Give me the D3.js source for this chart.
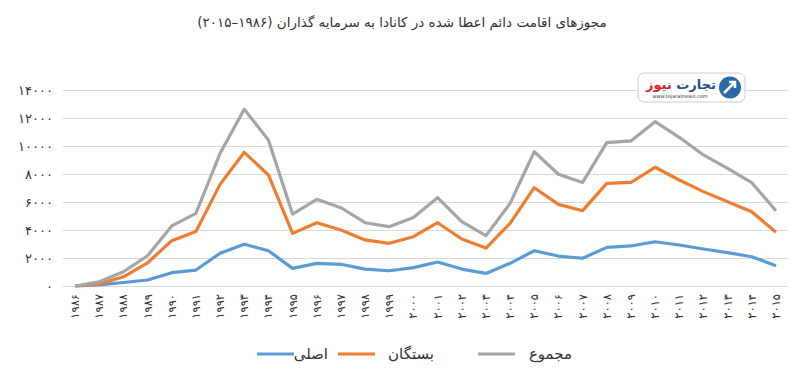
<!DOCTYPE html>
<html>
<head>
<meta charset="utf-8">
<title>مجوزهای اقامت دائم</title>
<script src="https://d3js.org/d3.v7.min.js"></script>
<style>
body { margin:0; background:#fff; }
text { font-family: "DejaVu Sans", sans-serif; fill:#333; }
.grid line { stroke:#d9d9d9; stroke-width:1px; }
.line { fill:none; stroke-width:3.2px; stroke-linejoin:round; }
</style>
</head>
<body>
<script>
// سال ها
var years = d3.range(1986, 2016);
// مجموع
var total = [0, 300, 1020, 2160, 4290, 5190, 9480, 12620, 10430, 5140, 6190, 5590, 4520, 4240, 4900,
             6310, 4590, 3590, 5900, 9590, 7980, 7400, 10240, 10360, 11740, 10620, 9360, 8400, 7380, 5380];
// بستگان
var dependents = [0, 150, 660, 1660, 3240, 3900, 7260, 9550, 7930, 3760, 4520, 4000, 3290, 3050, 3520,
                  4520, 3360, 2710, 4480, 7020, 5830, 5380, 7330, 7400, 8480, 7570, 6740, 6020, 5310, 3840];
// اصلی
var principal = [0, 80, 250, 430, 950, 1140, 2340, 2980, 2520, 1260, 1620, 1550, 1210, 1090, 1310,
                 1710, 1210, 900, 1620, 2520, 2140, 1980, 2760, 2860, 3160, 2930, 2640, 2380, 2090, 1450];
var yTicks = [0, 2000, 4000, 6000, 8000, 10000, 12000, 14000];

var series = [
  {name: "مجموع", values: total, color: "#a5a5a5"},
  {name: "بستگان", values: dependents, color: "#ed7d31"},
  {name: "اصلی", values: principal, color: "#5b9bd5"}
];

var fa = function(n) {
  return String(n).replace(/\d/g, function(d) { return "۰۱۲۳۴۵۶۷۸۹"[+d]; });
};

var width = 800, height = 380;
var svg = d3.select("body").append("svg")
            .attr("width", width)
            .attr("height", height);

var x = d3.scaleBand().domain(years).range([63, 788]);
var y = d3.scaleLinear().domain([0, 14000]).range([286, 90]);

svg.append("text")
   .attr("x", 402).attr("y", 27)
   .attr("text-anchor", "middle")
   .style("font-size", "13.5px")
   .attr("direction", "rtl")
   .text("مجوزهای اقامت دائم اعطا شده در کانادا به سرمایه گذاران (" + fa(1986) + "–" + fa(2015) + ")");

// grid
svg.append("g").attr("class", "grid")
   .selectAll("line").data(yTicks).enter().append("line")
   .attr("x1", 63).attr("x2", 788)
   .attr("y1", function(d) { return y(d) + 0.5; })
   .attr("y2", function(d) { return y(d) + 0.5; });

var yAxis = d3.axisLeft(y).tickValues(yTicks).tickSize(0).tickPadding(10).tickFormat(fa);
svg.append("g").attr("transform", "translate(63,0)").call(yAxis)
   .call(function(g) { g.select(".domain").remove(); })
   .selectAll("text").style("font-size", "13px").attr("fill", "#333");

// x labels
var xAxis = d3.axisBottom(x).tickSize(0).tickPadding(0).tickFormat(fa);
svg.append("g").attr("transform", "translate(0,294)").call(xAxis)
   .call(function(g) { g.select(".domain").remove(); })
   .selectAll("text")
   .style("font-size", "11.5px")
   .attr("fill", "#333")
   .attr("text-anchor", "end")
   .attr("transform", "rotate(-90)")
   .attr("x", 0).attr("y", 0).attr("dy", "0.35em");

var line = d3.line()
   .x(function(d, i) { return x(years[i]) + x.bandwidth() / 2; })
   .y(function(d) { return y(d); });

svg.selectAll(".line").data(series.slice().reverse()).enter().append("path")
   .attr("class", "line")
   .attr("stroke", function(d) { return d.color; })
   .attr("d", function(d) { return line(d.values); });

// legend
var legendPos = [{lx: 478, tx: 572}, {lx: 338, tx: 434}, {lx: 257, tx: 328}];
var lg = svg.append("g").selectAll("g").data(series).enter().append("g");
lg.append("line")
  .attr("x1", function(d, i) { return legendPos[i].lx; })
  .attr("x2", function(d, i) { return legendPos[i].lx + 37; })
  .attr("y1", 354).attr("y2", 354)
  .attr("stroke", function(d) { return d.color; })
  .attr("stroke-width", 3.2);
lg.append("text")
  .attr("x", function(d, i) { return legendPos[i].tx; })
  .attr("y", 354).attr("dy", "0.35em")
  .attr("text-anchor", "end")
  .style("font-size", "15px")
  .text(function(d) { return d.name; });

// logo
var logo = svg.append("g").attr("transform", "translate(638,73)");
logo.append("rect").attr("width", 107).attr("height", 29).attr("rx", 6)
    .attr("fill", "#fff").attr("stroke", "#ccc");
logo.append("circle").attr("cx", 92).attr("cy", 14.5).attr("r", 11).attr("fill", "#2a6aa8");
logo.append("path").attr("d", "M86,20 L97,9 M91,9 L97,9 L97,15")
    .attr("stroke", "#fff").attr("stroke-width", 2.5).attr("fill", "none");
logo.append("text").attr("x", 78).attr("y", 16).attr("text-anchor", "start")
    .style("font-size", "13px").style("font-weight", "bold").attr("direction", "rtl")
    .html('<tspan fill="#1f4e8c">تجارت </tspan><tspan fill="#d9252a">نیوز</tspan>');
logo.append("text").attr("x", 42).attr("y", 25).attr("text-anchor", "middle")
    .style("font-size", "5px").attr("fill", "#777").text("www.tejaratnews.com");
</script>
</body>
</html>
